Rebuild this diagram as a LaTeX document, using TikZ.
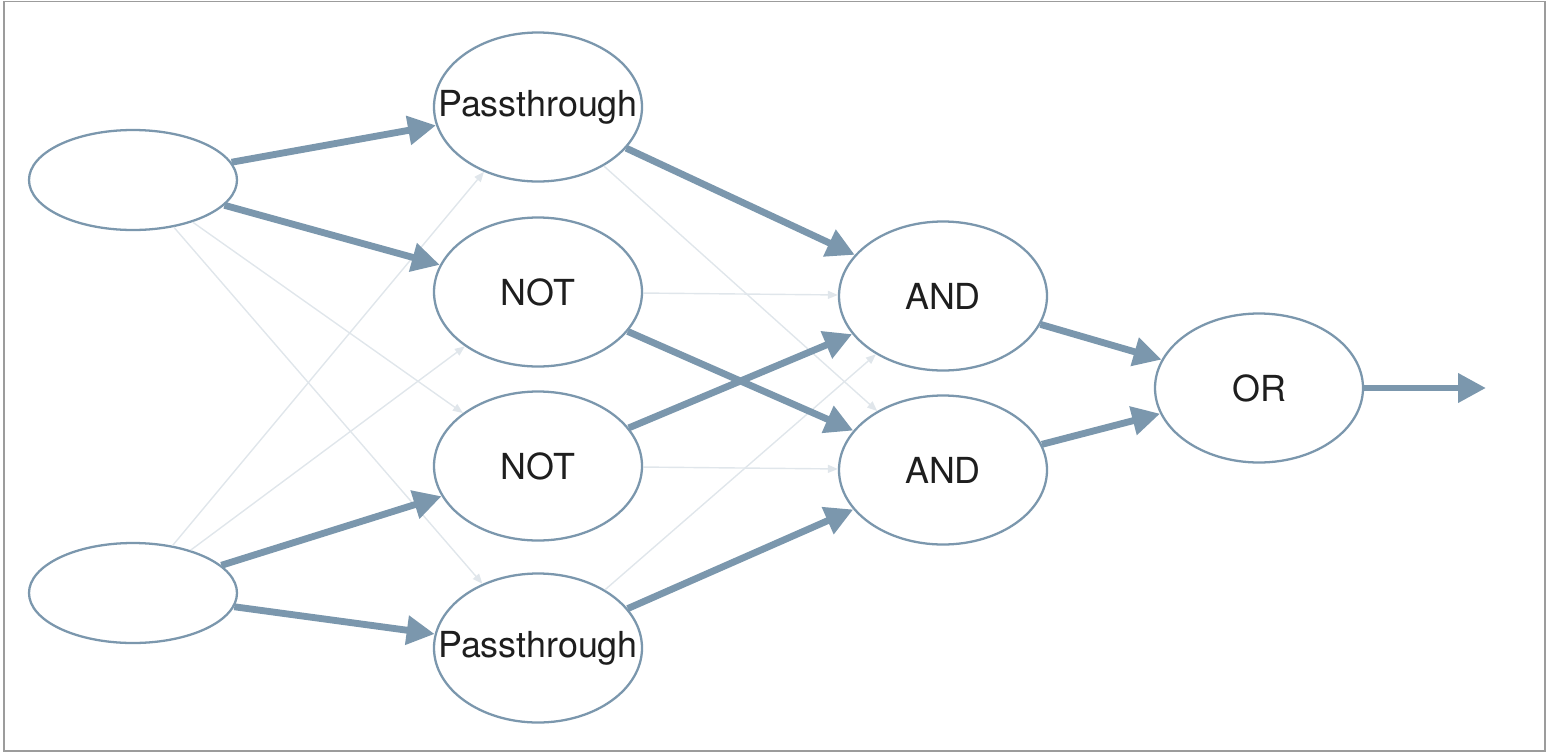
\documentclass[tikz,border=0pt]{standalone}
\usepackage{fontspec}
\setmainfont{TeX Gyre Heros}
\usetikzlibrary{shapes.geometric,arrows.meta}

\definecolor{wire}{HTML}{7B97AD}
\definecolor{faint}{HTML}{E0E6EB}
\definecolor{boxline}{HTML}{9C9C9C}
\definecolor{ink}{HTML}{1E1E1E}

\begin{document}
\begin{tikzpicture}[-,
					auto,
					node distance=8.1cm,
					font=\fontsize{20.4}{24}\selectfont,
					every label/.style={text=ink},
					gate/.style={ellipse,draw=wire,fill=white,line width=1.3pt,
					             minimum width=4.16cm,minimum height=2.98cm,inner sep=0pt},
					input/.style={gate,minimum height=2cm},
					strong/.style={wire,line width=3.9pt,-{Triangle[length=5.6mm,width=5.6mm]}},
					weak/.style={faint,line width=0.8pt,-{Triangle[length=2mm,width=1.6mm]}}]

  \useasboundingbox (0,0) rectangle (30.94,-15.06);
  \draw[boxline, line width=0.9pt] (0.08,-0.03) rectangle (30.90,-15.02);

  % inputs
  \node[input] (In1) at (2.66,-3.60) {};
  \node[input] (In2) [below of=In1, node distance=8.26cm] {};

  % first layer
  \node[gate, label=center:Passthrough] (P1) [right of=In1, yshift=1.46cm] {};
  \node[gate, label=center:NOT] (N1) [below of=P1, node distance=3.7cm] {};
  \node[gate, label=center:NOT] (N2) [below of=N1, node distance=3.48cm] {};
  \node[gate, label=center:Passthrough] (P2) [below of=N2, node distance=3.64cm] {};

  % second layer
  \node[gate, label=center:AND] (A1) [right of=N1, yshift=-0.08cm] {};
  \node[gate, label=center:AND] (A2) [right of=N2, yshift=-0.08cm] {};

  % output
  \node[gate, label=center:OR] (O) [right of=A1, node distance=6.32cm, yshift=-1.84cm] {};
  \coordinate (Out) at ([xshift=4.54cm]O.center);

  % unused connections
  \path[weak]
    (In1) edge (N2)
          edge (P2)
    (In2) edge (P1)
          edge (N1)
    (P1) edge (A2)
    (N1) edge (A1)
    (N2) edge (A2)
    (P2) edge (A1);

  % active connections
  \path[strong]
    (In1) edge (P1)
          edge (N1)
    (In2) edge (N2)
          edge (P2)
    (P1) edge (A1)
    (N1) edge (A2)
    (N2) edge (A1)
    (P2) edge (A2)
    (A1) edge (O)
    (A2) edge (O);
  \draw[strong] (O) -- (Out);
\end{tikzpicture}
\end{document}
